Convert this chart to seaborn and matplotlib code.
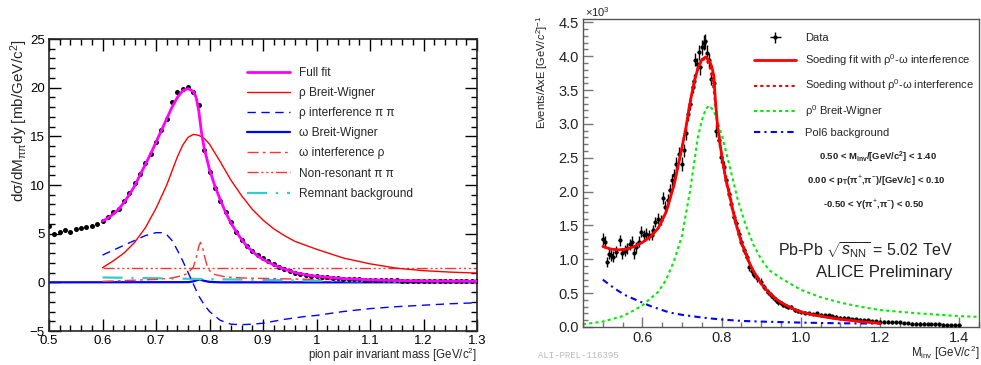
# Two-panel rho/omega invariant mass fits, drawn ROOT-style

import numpy as np
import pandas as pd
import matplotlib.pyplot as plt
import seaborn as sns
from matplotlib.ticker import MultipleLocator, FuncFormatter

W, H = 981, 365

# ---------------- left panel data ----------------
mass_l = np.round(np.arange(0.50, 1.305, 0.01), 2)
xsec_l = [5.8, 5.0, 5.2, 5.4, 5.2, 5.5, 5.6, 5.7, 5.8, 6.0,
          6.3, 6.7, 7.2, 7.5, 8.4, 9.2, 10.2, 11.1, 12.3, 13.2,
          14.4, 15.6, 16.8, 18.5, 19.6, 19.9, 20.1, 19.6, 18.2, 13.6,
          11.3, 9.7, 8.4, 7.2, 6.2, 5.2, 4.4, 3.7, 3.2, 2.8,
          2.45, 2.15, 1.85, 1.55, 1.35, 1.15, 0.95, 0.85, 0.75, 0.66,
          0.6, 0.55, 0.5, 0.46, 0.42, 0.38, 0.35, 0.32, 0.3, 0.28,
          0.26, 0.24, 0.22, 0.21, 0.2, 0.19, 0.18, 0.17, 0.16, 0.15,
          0.14, 0.14, 0.13, 0.13, 0.12, 0.12, 0.11, 0.11, 0.1, 0.1, 0.1]

fit_x = [0.60, 0.61, 0.62, 0.63, 0.64, 0.65, 0.66, 0.67, 0.68, 0.69, 0.70, 0.71, 0.72,
         0.73, 0.74, 0.75, 0.76, 0.77, 0.775, 0.78, 0.785, 0.79, 0.80, 0.81, 0.82, 0.83,
         0.84, 0.85, 0.86, 0.87, 0.88, 0.89, 0.90, 0.92, 0.94, 0.96, 0.98, 1.00, 1.05,
         1.10, 1.15, 1.20, 1.25, 1.30]
fit_y = [6.3, 6.6, 7.0, 7.5, 8.2, 9.0, 9.9, 11.0, 12.1, 13.2, 14.4, 15.6, 16.8,
         18.0, 19.0, 19.7, 19.9, 19.6, 19.0, 17.6, 15.4, 13.8, 11.6, 9.9, 8.5, 7.2,
         6.1, 5.2, 4.4, 3.7, 3.2, 2.7, 2.35, 1.8, 1.35, 1.0, 0.78, 0.62, 0.38,
         0.26, 0.18, 0.14, 0.12, 0.1]

rho_x = [0.60, 0.62, 0.64, 0.66, 0.68, 0.70, 0.72, 0.74, 0.75, 0.76, 0.77, 0.78, 0.79,
         0.80, 0.82, 0.84, 0.86, 0.88, 0.90, 0.92, 0.94, 0.96, 0.98, 1.00, 1.05, 1.10,
         1.15, 1.20, 1.25, 1.30]
rho_y = [1.5, 2.2, 3.0, 4.1, 5.6, 7.6, 10.0, 12.9, 14.1, 14.9, 15.2, 15.1, 14.8,
         14.2, 12.4, 10.5, 8.9, 7.5, 6.4, 5.5, 4.8, 4.2, 3.8, 3.4, 2.5, 1.9,
         1.45, 1.2, 1.05, 0.95]

rhoint_x = [0.60, 0.62, 0.64, 0.66, 0.68, 0.70, 0.71, 0.72, 0.73, 0.74, 0.75, 0.76, 0.77,
            0.78, 0.79, 0.80, 0.82, 0.84, 0.86, 0.88, 0.90, 0.92, 0.94, 0.96, 0.98, 1.00,
            1.05, 1.10, 1.15, 1.20, 1.25, 1.30]
rhoint_y = [2.8, 3.3, 3.8, 4.3, 4.8, 5.1, 5.1, 4.9, 4.3, 3.3, 2.2, 1.0, -0.2,
            -1.4, -2.3, -3.0, -3.9, -4.3, -4.35, -4.3, -4.2, -4.0, -3.8, -3.65, -3.5, -3.4,
            -3.0, -2.7, -2.5, -2.35, -2.2, -2.1]

omega_x = [0.50, 0.76, 0.77, 0.775, 0.782, 0.79, 0.80, 0.82, 1.30]
omega_y = [0.0, 0.02, 0.1, 0.2, 0.3, 0.15, 0.05, 0.0, 0.0]

omint_x = [0.60, 0.65, 0.70, 0.73, 0.75, 0.76, 0.77, 0.775, 0.78, 0.783, 0.787, 0.79,
           0.795, 0.80, 0.81, 0.83, 0.86, 0.90, 1.00, 1.30]
omint_y = [0.1, 0.2, 0.3, 0.45, 0.7, 0.95, 1.6, 2.5, 3.7, 4.1, 3.6, 2.8,
           1.8, 1.2, 0.8, 0.55, 0.45, 0.4, 0.3, 0.2]

nonres_x = [0.60, 1.30]
nonres_y = [1.5, 1.5]

remnant_x = [0.60, 0.70, 0.80, 0.90, 1.00, 1.10, 1.20, 1.30]
remnant_y = [0.5, 0.42, 0.33, 0.25, 0.17, 0.1, 0.03, -0.03]

# ---------------- right panel data (x10^3) ----------------
mass_r = [0.500, 0.505, 0.511, 0.516, 0.521, 0.527, 0.534, 0.543, 0.549, 0.555,
          0.561, 0.568, 0.574, 0.580, 0.585, 0.591, 0.597, 0.603, 0.610, 0.616,
          0.623, 0.627, 0.633, 0.640, 0.646, 0.652, 0.658, 0.664, 0.669, 0.675,
          0.681, 0.686, 0.693, 0.699, 0.705, 0.709, 0.715, 0.721, 0.727, 0.730,
          0.734, 0.738, 0.742, 0.746, 0.751, 0.755, 0.759, 0.763, 0.768, 0.774,
          0.781, 0.787, 0.793, 0.799, 0.806, 0.812, 0.819, 0.824, 0.831, 0.837,
          0.844, 0.850, 0.857, 0.863, 0.869, 0.876, 0.882, 0.890, 0.899, 0.907,
          0.916, 0.924, 0.930, 0.937, 0.943, 0.949, 0.956, 0.962, 0.968, 0.975,
          0.985, 0.992, 1.00, 1.01, 1.02, 1.03, 1.04, 1.05, 1.06, 1.07,
          1.08, 1.09, 1.10, 1.11, 1.12, 1.13, 1.14, 1.15, 1.16, 1.17,
          1.18, 1.19, 1.20, 1.21, 1.22, 1.23, 1.24, 1.25, 1.26, 1.27,
          1.28, 1.29, 1.30, 1.31, 1.32, 1.33, 1.34, 1.35, 1.36, 1.37,
          1.38, 1.39, 1.40]
events_r = [1.30, 1.25, 0.96, 1.08, 1.06, 1.04, 1.11, 1.28, 1.09, 1.13,
            1.16, 1.22, 1.26, 1.09, 1.18, 1.26, 1.41, 1.36, 1.38, 1.36,
            1.36, 1.43, 1.55, 1.60, 1.58, 1.90, 1.77, 1.87, 2.02, 2.17,
            2.24, 2.41, 2.56, 2.41, 2.61, 2.86, 3.15, 3.30, 3.55, 3.64,
            3.95, 3.88, 4.06, 3.84, 4.13, 4.20, 4.22, 4.05, 3.94, 3.67,
            3.60, 2.90, 2.76, 2.51, 2.36, 2.17, 1.97, 1.82, 1.63, 1.53,
            1.38, 1.26, 1.14, 1.04, 0.89, 0.82, 0.77, 0.72, 0.67, 0.59,
            0.52, 0.47, 0.44, 0.40, 0.37, 0.35, 0.33, 0.31, 0.30, 0.29,
            0.25, 0.23, 0.22, 0.21, 0.20, 0.19, 0.20, 0.18, 0.17, 0.17,
            0.16, 0.15, 0.14, 0.14, 0.13, 0.12, 0.12, 0.11, 0.10, 0.10,
            0.09, 0.09, 0.08, 0.08, 0.08, 0.07, 0.07, 0.07, 0.06, 0.06,
            0.05, 0.05, 0.05, 0.05, 0.045, 0.045, 0.04, 0.04, 0.035, 0.03,
            0.03, 0.03, 0.03]
err_r = ([0.09] * 2 + [0.08] * 23 + [0.09] * 6 + [0.10] * 11 + [0.11] * 7
         + [0.10] * 4 + [0.09] * 2 + [0.08] * 4 + [0.07] * 3 + [0.06] * 3
         + [0.05] * 4 + [0.04] * 6 + [0.03] * 7 + [0.02] * 41)

sfit_x = [0.50, 0.52, 0.54, 0.56, 0.58, 0.60, 0.62, 0.64, 0.66, 0.68, 0.70, 0.71,
          0.72, 0.73, 0.74, 0.75, 0.76, 0.77, 0.775, 0.78, 0.785, 0.79, 0.80, 0.81,
          0.82, 0.83, 0.84, 0.85, 0.86, 0.87, 0.88, 0.90, 0.92, 0.94, 0.96, 0.98,
          1.00, 1.04, 1.08, 1.12, 1.16, 1.20]
sfit_y = [1.19, 1.15, 1.14, 1.15, 1.19, 1.25, 1.33, 1.46, 1.70, 2.10, 2.65, 2.95,
          3.30, 3.60, 3.82, 3.95, 3.99, 3.92, 3.85, 3.72, 3.30, 2.95, 2.55, 2.20,
          1.95, 1.68, 1.45, 1.25, 1.10, 0.95, 0.83, 0.64, 0.50, 0.40, 0.33, 0.27,
          0.22, 0.17, 0.13, 0.10, 0.075, 0.055]
snoint_y = [1.19, 1.15, 1.14, 1.15, 1.19, 1.25, 1.33, 1.46, 1.70, 2.10, 2.65, 2.95,
            3.30, 3.60, 3.82, 3.94, 3.96, 3.85, 3.70, 3.50, 3.25, 2.98, 2.55, 2.20,
            1.95, 1.68, 1.45, 1.25, 1.10, 0.95, 0.83, 0.64, 0.50, 0.40, 0.33, 0.27,
            0.22, 0.17, 0.13, 0.10, 0.075, 0.055]

bw_x = [0.45, 0.50, 0.55, 0.58, 0.60, 0.62, 0.64, 0.66, 0.68, 0.70, 0.72, 0.73, 0.74,
        0.75, 0.76, 0.768, 0.78, 0.80, 0.82, 0.84, 0.86, 0.88, 0.90, 0.92, 0.95, 1.00,
        1.05, 1.10, 1.15, 1.20, 1.30, 1.40, 1.45]
bw_y = [0.04, 0.08, 0.16, 0.25, 0.32, 0.42, 0.52, 0.70, 0.98, 1.35, 2.0, 2.4, 2.8,
        3.05, 3.22, 3.27, 3.2, 2.85, 2.38, 1.9, 1.52, 1.22, 1.0, 0.84, 0.72, 0.55,
        0.44, 0.36, 0.30, 0.25, 0.2, 0.16, 0.15]

pol6_x = [0.50, 0.52, 0.54, 0.56, 0.58, 0.60, 0.62, 0.64, 0.66, 0.68, 0.70, 0.75,
          0.80, 0.85, 0.90, 1.00, 1.10, 1.20]
pol6_y = [0.70, 0.61, 0.53, 0.46, 0.41, 0.36, 0.31, 0.27, 0.23, 0.20, 0.18, 0.14,
          0.11, 0.09, 0.08, 0.065, 0.055, 0.05]

# ---------------- style ----------------
sns.set_style("ticks")
plt.rcParams['font.family'] = ['Liberation Sans', 'DejaVu Sans']
plt.rcParams['mathtext.fontset'] = 'custom'
plt.rcParams['mathtext.rm'] = 'Liberation Sans'
plt.rcParams['mathtext.it'] = 'Liberation Sans:italic'
plt.rcParams['mathtext.bf'] = 'Liberation Sans:bold'

fig = plt.figure(figsize=(W / 100, H / 100), dpi=100)
ax1 = fig.add_axes([49 / W, 1 - 331 / H, (477 - 49) / W, (331 - 39) / H])
ax2 = fig.add_axes([583 / W, 1 - 327 / H, (979 - 583) / W, (327 - 19) / H])

# ---------------- left panel ----------------
sns.scatterplot(x=mass_l, y=xsec_l, color='black', s=13, linewidth=0, ax=ax1, zorder=3)
sns.lineplot(x=omega_x, y=omega_y, color='#0000ff', lw=1.6, ax=ax1, label='ω Breit-Wigner')
sns.lineplot(x=remnant_x, y=remnant_y, color='#33cccc', lw=1.6,
             linestyle=(0, (9, 4, 1, 4)), ax=ax1, label='Remnant background')
sns.lineplot(x=nonres_x, y=nonres_y, color='#ff3333', lw=1,
             linestyle=(0, (8, 2, 1.5, 2, 1.5, 2, 1.5, 2)), ax=ax1, label='Non-resonant π π')
sns.lineplot(x=omint_x, y=omint_y, color='#ff3333', lw=1,
             linestyle=(0, (8, 3, 2, 3)), ax=ax1, label='ω interference ρ')
sns.lineplot(x=rhoint_x, y=rhoint_y, color='#0000ff', lw=1,
             linestyle=(0, (6, 4)), ax=ax1, label='ρ interference π π')
sns.lineplot(x=rho_x, y=rho_y, color='#ff0000', lw=1, ax=ax1, label='ρ Breit-Wigner')
sns.lineplot(x=fit_x, y=fit_y, color='#ff00ff', lw=2, ax=ax1, label='Full fit', zorder=4)

ax1.set_xlim(0.5, 1.3)
ax1.set_ylim(-5, 25)
ax1.xaxis.set_major_locator(MultipleLocator(0.1))
ax1.xaxis.set_minor_locator(MultipleLocator(0.02))
ax1.yaxis.set_major_locator(MultipleLocator(5))
ax1.yaxis.set_minor_locator(MultipleLocator(1))
ax1.xaxis.set_major_formatter(FuncFormatter(lambda v, p: '1' if abs(v - 1) < 1e-6 else f'{v:.1f}'))
ax1.yaxis.set_major_formatter(FuncFormatter(lambda v, p: f'{v:g}'.replace('-', '\u2212')))
ax1.tick_params(which='both', direction='in', top=True, right=True, labelsize=9.5,
                width=1, colors='black')
ax1.tick_params(which='major', length=8.5, pad=3)
ax1.tick_params(which='minor', length=4.3)
for s in ax1.spines.values():
    s.set_linewidth(1.2)
ax1.set_xlabel('pion pair invariant mass [GeV/c$^{2}$]', fontsize=8.3, loc='right')
ax1.xaxis.set_label_coords(1.0, -0.052)
ax1.set_ylabel('dσ/dM$_{\\rm \\pi\\pi}$dy [mb/GeV/c$^{2}$]', fontsize=11, loc='top')
ax1.yaxis.set_label_coords(-0.045, 1.0)

hl, ll = ax1.get_legend_handles_labels()
order = ['Full fit', 'ρ Breit-Wigner', 'ρ interference π π', 'ω Breit-Wigner',
         'ω interference ρ', 'Non-resonant π π', 'Remnant background']
hmap = dict(zip(ll, hl))
ax1.legend([hmap[k] for k in order], order, loc='upper left', frameon=False,
           bbox_to_anchor=(247 / W, 1 - 67 / H), bbox_transform=fig.transFigure,
           fontsize=8.6, borderpad=0, handlelength=3.6, handletextpad=0.75,
           labelspacing=0.68, borderaxespad=0)

# ---------------- right panel ----------------
ax2.errorbar(mass_r, events_r, yerr=err_r, xerr=0.0035, fmt='o', ms=2, color='black',
             elinewidth=1, capsize=0, label='Data', zorder=3)
sns.lineplot(x=pol6_x, y=pol6_y, color='#0000ff', lw=1.5, linestyle=(0, (3, 2, 1, 2)),
             ax=ax2, label='Pol6 background')
sns.lineplot(x=bw_x, y=bw_y, color='#00ee00', lw=1.5, linestyle=(0, (1.5, 1.5)),
             ax=ax2, label='ρ$^{0}$ Breit-Wigner')
sns.lineplot(x=sfit_x, y=sfit_y, color='#ff0000', lw=2, ax=ax2, zorder=4,
             label='Soeding fit with ρ$^{0}$-ω interference')
sns.lineplot(x=sfit_x, y=snoint_y, color='#ff0000', lw=1.5, linestyle=(0, (1.5, 1.5)),
             ax=ax2, zorder=5, label='Soeding without ρ$^{0}$-ω interference')

ax2.set_xlim(0.45, 1.45)
ax2.set_ylim(0, 4.55)
ax2.xaxis.set_major_locator(MultipleLocator(0.2))
ax2.xaxis.set_minor_locator(MultipleLocator(0.05))
ax2.yaxis.set_major_locator(MultipleLocator(0.5))
ax2.yaxis.set_minor_locator(MultipleLocator(0.1))
ax2.xaxis.set_major_formatter(FuncFormatter(lambda v, p: f'{v:.1f}'))
ax2.yaxis.set_major_formatter(FuncFormatter(lambda v, p: f'{v:.1f}'))
ax2.tick_params(which='both', direction='in', top=False, right=False, labelsize=10.5,
                width=1, color='#777777', labelcolor='#222222')
ax2.tick_params(which='major', length=7.5, pad=3)
ax2.tick_params(which='minor', length=3.8)
for s in ax2.spines.values():
    s.set_linewidth(1)
    s.set_color('#555555')
ax2.set_xlabel('M$_{\\rm inv}$ [GeV/$c^{2}$]', fontsize=8.3, loc='right', color='#222222')
ax2.xaxis.set_label_coords(1.0, -0.055)
ax2.set_ylabel('Events/AxE [GeV/$c^{2}$]$^{-1}$', fontsize=8, loc='top', color='#222222')
ax2.yaxis.set_label_coords(-0.083, 1.01)

hl, ll = ax2.get_legend_handles_labels()
hmap = dict(zip(ll, hl))
order = ['Data', 'Soeding fit with ρ$^{0}$-ω interference',
         'Soeding without ρ$^{0}$-ω interference', 'ρ$^{0}$ Breit-Wigner', 'Pol6 background']
ax2.legend([hmap[k] for k in order], order, loc='upper left', frameon=False,
           bbox_to_anchor=(754 / W, 1 - 33 / H), bbox_transform=fig.transFigure,
           fontsize=8, borderpad=0, handlelength=3.8, handletextpad=0.8,
           labelspacing=0.85, borderaxespad=0)

fig.text(585 / W, 1 - 12 / H, '×10$^{3}$', fontsize=8, color='#222222', va='center')
fig.text(878 / W, 1 - 157 / H, '0.50 < M$_{\\mathbf{inv}}$/[GeV/$\\mathbf{c^{2}}$] < 1.40',
         fontsize=6.8, fontweight='bold', ha='center', va='center', color='#222222')
fig.text(876 / W, 1 - 181 / H, '0.00 < p$_{\\mathbf{T}}$(π$^{+}$,π$^{-}$)/[GeV/$\\mathbf{c}$] < 0.10',
         fontsize=6.8, fontweight='bold', ha='center', va='center', color='#222222')
fig.text(874 / W, 1 - 205 / H, '-0.50 < Y(π$^{+}$,π$^{-}$) < 0.50',
         fontsize=6.8, fontweight='bold', ha='center', va='center', color='#222222')
fig.text(953 / W, 1 - 250 / H, 'Pb-Pb $\\sqrt{s_{\\rm NN}}$ = 5.02 TeV',
         fontsize=11.5, ha='right', va='center', color='#222222')
fig.text(953 / W, 1 - 273 / H, 'ALICE Preliminary',
         fontsize=12, ha='right', va='center', color='#222222')
fig.text(538 / W, 1 - 355 / H, 'ALI-PREL-116395', fontsize=6.5,
         family='Liberation Mono', color='#bbbbbb', va='center')

fig.savefig('out.png', dpi=100)
